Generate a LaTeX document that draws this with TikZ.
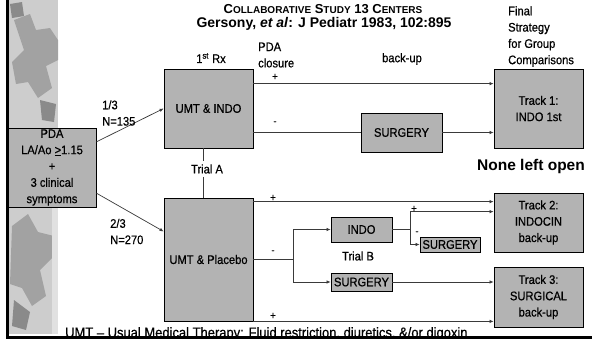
\documentclass[tikz,border=0pt]{standalone}
\usepackage{fontspec}
\setmainfont{Liberation Sans}
\newfontfamily\narrowsf[FakeStretch=0.9, FakeBold=0.6]{Liberation Sans}
\usepackage{xcolor}
\definecolor{colBox}{HTML}{B3B3B3}
\definecolor{colLine}{HTML}{3A3A3A}
\definecolor{colBand}{HTML}{CDCDCD}
\definecolor{colPatch}{HTML}{A2A2A2}
\definecolor{colPatchDark}{HTML}{8A8A8A}
\usetikzlibrary{arrows.meta, positioning, calc}
\newcommand{\smallcap}[1]{{\fontsize{10}{10}\selectfont #1}}

\begin{document}
\begin{tikzpicture}[x=1pt, y=-1pt,
    box/.style={draw=black, line width=0.8pt, fill=colBox, align=center,
      inner sep=0pt, font=\narrowsf\fontsize{12.4}{16.3}\selectfont},
    lbl/.style={inner sep=0pt, align=left, font=\narrowsf\fontsize{12.4}{16.3}\selectfont},
    sgn/.style={inner sep=0pt, font=\narrowsf\fontsize{11}{11}\selectfont},
    ln/.style={colLine, line width=0.7pt},
    arr/.style={ln, -{Latex[length=4pt, width=3.5pt]}}]
    % Background
    \useasboundingbox (0,0) rectangle (592,341);
    \fill[white] (0,0) rectangle (592,341);
    % Left band
    \fill[colBand] (8,0) rectangle (58,334);
    \fill[colPatch] (14,20) -- (30,14) -- (36,30) -- (50,28) -- (58,40) -- (58,60)
        -- (46,66) -- (52,88) -- (38,98) -- (28,82) -- (16,84) -- (12,62) -- (24,50) -- cycle;
    \fill[colPatchDark] (10,4) -- (22,2) -- (24,16) -- (12,18) -- cycle;
    \fill[colPatchDark] (40,100) -- (56,104) -- (54,122) -- (42,120) -- cycle;
    \fill[colPatch] (12,226) -- (28,214) -- (38,232) -- (54,236) -- (52,258) -- (40,270)
        -- (46,296) -- (32,306) -- (22,288) -- (10,284) -- cycle;
    \fill[colPatchDark] (14,300) -- (30,312) -- (26,330) -- (12,326) -- cycle;
    \fill[colBand!60!white] (52,130) rectangle (58,334);
    % Title
    \node[font=\bfseries\fontsize{13}{13}\selectfont] (title) at (323,9)
        {C\smallcap{OLLABORATIVE} S\smallcap{TUDY} 13 C\smallcap{ENTERS}};
    \node[font=\bfseries\fontsize{14}{14}\selectfont] (ref) at (324,24)
        {Gersony, \textit{et al}: J Pediatr 1983, 102:895};
    % Column heads
    \node[lbl] (rx) at (211,58) {1\textsuperscript{st} Rx};
    \node[lbl, anchor=west] (closure) at (258,55) {PDA\\closure};
    \node[lbl] (backup) at (402,59) {back-up};
    \node[lbl, anchor=west] (final) at (508,36.5) {Final\\Strategy\\for Group\\Comparisons};
    \node[anchor=west, inner sep=0pt, font=\bfseries\fontsize{15.5}{16}\selectfont] (open)
        at (477,166) {None left open};
    % Boxes
    \node[box, minimum width=88pt, minimum height=79pt] (pda) at (52,167.5)
        {PDA\\LA/Ao \underline{>}1.15\\+\\3 clinical\\symptoms};
    \node[box, minimum width=89pt, minimum height=79pt] (indo) at (208.5,108.5) {UMT \& INDO};
    \node[box, minimum width=89pt, minimum height=123pt] (placebo) at (208.5,259.5) {UMT \& Placebo};
    \node[box, minimum width=81pt, minimum height=39pt] (surgA) at (401.5,132.5) {SURGERY};
    \node[box, minimum width=61pt, minimum height=25pt] (indoB) at (361.5,229.5) {INDO};
    \node[box, minimum width=60pt, minimum height=15pt] (surgS) at (450,244.5) {SURGERY};
    \node[box, minimum width=61pt, minimum height=18pt] (surgB) at (361.5,282) {SURGERY};
    \node[box, minimum width=89pt, minimum height=79pt] (track1) at (538.5,108.5) {Track 1:\\INDO 1st};
    \node[box, minimum width=89pt, minimum height=59pt] (track2) at (538.5,222.5) {Track 2:\\INDOCIN\\back-up};
    \node[box, minimum width=89pt, minimum height=60pt] (track3) at (538.5,297) {Track 3:\\SURGICAL\\back-up};
    % Randomisation
    \draw[arr] (pda.30) -- (indo.west);
    \draw[arr] (pda.-30) -- (placebo.148);
    \node[lbl, anchor=west] (nA) at (102,113) {1/3\\N=135};
    \node[lbl, anchor=west] (nB) at (110,231.5) {2/3\\N=270};
    % Trial A
    \node[lbl, inner sep=3pt] (trialA) at (207,169) {Trial A};
    \coordinate (tA) at (203,0);
    \draw[ln] (indo.south -| tA) -- (trialA.north -| tA);
    \draw[ln] (trialA.south -| tA) -- (placebo.north -| tA);
    % Indo arm
    \draw[arr] ([yshift=-15pt]indo.north east) -- ([yshift=-15pt]track1.north west);
    \draw[ln] (indo.east |- surgA.west) -- (surgA.west);
    \draw[arr] (surgA.east) -- (surgA.east -| track1.west);
    % Placebo arm
    \coordinate (brA) at (293,0);
    \coordinate (brB) at (410,0);
    \draw[arr] ([yshift=-4pt]placebo.north east) -- ([yshift=-9pt]track2.north west);
    \draw[ln] (placebo.east) -- (placebo.east -| brA);
    \draw[arr] (placebo.east -| brA) |- (indoB.west);
    \draw[arr] (placebo.east -| brA) |- (surgB.west);
    \node[lbl] (trialB) at (358,256) {Trial B};
    \draw[ln] (indoB.east) -- (indoB.east -| brB);
    \draw[arr] (indoB.east -| brB) |- ([yshift=-19pt]track2.north west);
    \draw[arr] (indoB.east -| brB) |- (surgS.west);
    \draw[arr] (surgB.east) -- (surgB.east -| track3.west);
    \draw[arr] (placebo.south east) -- (placebo.south east -| track3.west);
    % Signs
    \foreach \n/\sx/\sy/\s in {a/275/77/+, b/275/123/-, c/273/198/+, d/273/252/-,
        e/273/316/+, f/414/209/+, g/417/233/-}{
        \node[sgn] (sg\n) at (\sx,\sy) {\s};}
    % Footnote and frame
    \node[anchor=base west, inner sep=0pt, font=\narrowsf\fontsize{14.4}{15}\selectfont] (umt)
        at (65,337.5) {UMT – Usual Medical Therapy: Fluid restriction, diuretics, \&/or digoxin};
    \fill[white] (8,338.5) rectangle (592,341);
    \draw[black, line width=3pt] (7,0) -- (7,337) -- (592,337);
\end{tikzpicture}
\end{document}
